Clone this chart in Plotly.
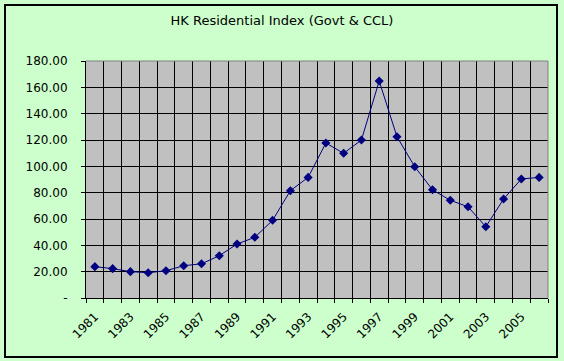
import plotly.graph_objects as go

years = list(range(1981, 2007))
index_values = [23.8, 22.3, 20.0, 19.2, 20.7, 24.5, 26.0, 32.1, 41.0, 46.1,
                59.0, 81.5, 91.6, 117.7, 109.9, 120.0, 164.8, 122.5, 99.7, 82.2,
                74.2, 69.3, 54.1, 75.2, 90.4, 91.6]
x_label_years = list(range(1981, 2007, 2))
y_ticks = list(range(0, 181, 20))
y_ticktext = ["-" if v == 0 else f"{v:.2f}" for v in y_ticks]
boundaries = [y - 0.5 for y in range(1981, 2008)]

W, H = 564, 361
L, R, T, B = 86, 548, 61, 298

fig = go.Figure()
fig.add_trace(go.Scatter(
    x=years, y=index_values, mode="lines+markers",
    line=dict(color="#000080", width=1),
    marker=dict(symbol="diamond", size=7, color="#000080"),
    showlegend=False, hoverinfo="x+y",
))

font = dict(family="DejaVu Sans", size=12, color="black")

fig.update_layout(
    width=W, height=H,
    margin=dict(l=L, r=W - R, t=T, b=H - B, autoexpand=False),
    paper_bgcolor="#CCFFCC",
    plot_bgcolor="#C0C0C0",
    font=font,
    title=dict(text="HK Residential Index (Govt & CCL)", x=0.5, xanchor="center",
               y=1 - 20 / H, yanchor="middle", font=dict(family="DejaVu Sans", size=13)),
    xaxis=dict(
        range=[1980.5, 2006.5], tickmode="array", tickvals=x_label_years,
        ticktext=[str(y) for y in x_label_years], tickangle=-45,
        showgrid=False, ticks="", showline=True, linecolor="black", linewidth=1,
        mirror=False, zeroline=False, ticklabelstandoff=6,
        minor=dict(tickmode="array", tickvals=boundaries, showgrid=True,
                   gridcolor="black", gridwidth=1, ticks="outside", ticklen=4,
                   tickcolor="black"),
    ),
    yaxis=dict(
        range=[0, 180], tickmode="array", tickvals=y_ticks, ticktext=y_ticktext,
        showgrid=True, gridcolor="black", gridwidth=1, ticks="outside", ticklen=4,
        tickcolor="black", showline=True, linecolor="black", linewidth=1,
        zeroline=False, ticklabelstandoff=11,
    ),
    shapes=[
        dict(type="rect", xref="paper", yref="paper",
             x0=(5 - L) / (R - L), x1=(557 - L) / (R - L),
             y0=(B - 357) / (B - T), y1=(B - 5) / (B - T),
             line=dict(color="black", width=2), fillcolor="rgba(0,0,0,0)", layer="below"),
        dict(type="line", xref="paper", yref="paper", x0=1, x1=1, y0=0, y1=1,
             line=dict(color="#808080", width=1)),
        dict(type="line", xref="paper", yref="paper", x0=0, x1=1, y0=1, y1=1,
             line=dict(color="#808080", width=1)),
    ],
)

fig.write_html("out.html", config={"displayModeBar": False},
               post_script="document.body.style.margin='0';document.body.style.overflow='hidden';")
